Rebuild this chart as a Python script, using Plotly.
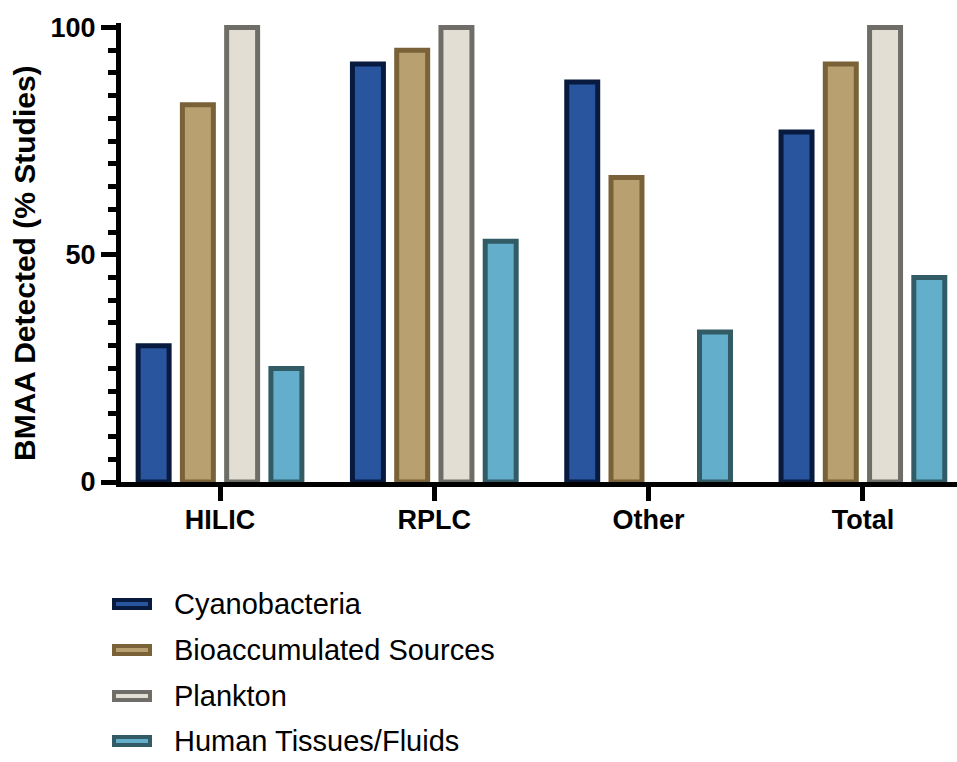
import plotly.graph_objects as go

# ---- data ----
categories = ["HILIC", "RPLC", "Other", "Total"]
series_names = ["Cyanobacteria", "Bioaccumulated Sources", "Plankton", "Human Tissues/Fluids"]
cyanobacteria = [30, 92, 88, 77]
bioaccumulated = [83, 95, 67, 92]
plankton = [100, 100, None, 100]
human = [25, 53, 33, 45]
y_ticks = [0, 50, 100]

series_values = [cyanobacteria, bioaccumulated, plankton, human]
fills = ["#29549E", "#B8A070", "#E2DED3", "#62AECB"]
borders = ["#081A3E", "#7A6238", "#6E6D68", "#335B66"]

W, H = 957, 762
L, R, T, B = 121, 0, 23, 280
FONT = "Arial, Liberation Sans, sans-serif"

fig = go.Figure()
for name, vals, fc, bc in zip(series_names, series_values, fills, borders):
    fig.add_trace(go.Bar(
        x=categories, y=vals, name=name,
        marker=dict(color=fc, line=dict(color=bc, width=5)),
        showlegend=False,
    ))

plot_w = W - L - R
plot_h = H - T - B

def px_x(p):
    return (p - L) / plot_w

def px_y(p):
    return (H - B - p) / plot_h

# manual legend (swatches + labels)
row_y = [604, 650, 696, 741]
for name, fc, bc, yy in zip(series_names, fills, borders, row_y):
    fig.add_shape(type="rect", xref="paper", yref="paper",
                  x0=px_x(114), x1=px_x(150), y0=px_y(yy + 4), y1=px_y(yy - 4),
                  fillcolor=fc, line=dict(color=bc, width=4))
    fig.add_annotation(xref="paper", yref="paper", x=px_x(173), y=px_y(yy),
                       xanchor="left", yanchor="middle", text=name, showarrow=False,
                       borderpad=0,
                       font=dict(family=FONT, size=29, color="black"))

# y-axis title
fig.add_annotation(xref="paper", yref="paper", x=px_x(24), y=px_y(263),
                   xanchor="center", yanchor="middle", text="BMAA Detected (% Studies)",
                   textangle=-90, showarrow=False,
                   font=dict(family=FONT, size=30, color="black", weight="bold"))

fig.update_layout(
    width=W, height=H,
    margin=dict(l=L, r=R, t=T, b=B),
    paper_bgcolor="white", plot_bgcolor="white",
    barmode="group", bargap=0.174, bargroupgap=0.3,
    font=dict(family=FONT, color="black"),
    xaxis=dict(
        range=[-0.462, 3.439], showgrid=False, zeroline=False,
        showline=True, linecolor="black", linewidth=5,
        ticks="outside", ticklen=14, tickwidth=5, tickcolor="black",
        ticklabelstandoff=-4,
        tickfont=dict(family=FONT, size=27, color="black", weight="bold"),
    ),
    yaxis=dict(
        range=[0, 101], showgrid=False, zeroline=False,
        showline=True, linecolor="black", linewidth=5,
        tickmode="array", tickvals=y_ticks, ticktext=[str(v) for v in y_ticks],
        ticks="outside", ticklen=15, tickwidth=5, tickcolor="black",
        tickfont=dict(family=FONT, size=27, color="black", weight="bold"),
        minor=dict(dtick=5, tick0=0, ticks="outside", ticklen=8, tickwidth=5, tickcolor="black"),
    ),
)

fig.write_html("out.html", config={"displayModeBar": False},
               post_script="document.body.style.margin='0';document.body.style.overflow='hidden';")
